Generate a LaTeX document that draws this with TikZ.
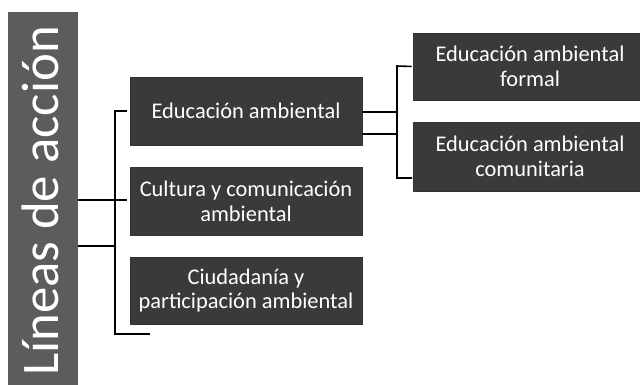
\documentclass[tikz,border=0pt]{standalone}
\usepackage{fontspec}
\setmainfont{Carlito}
\definecolor{barcol}{HTML}{5C5C5C}
\definecolor{boxcol}{HTML}{3A3A3A}
\begin{document}
\begin{tikzpicture}[x=1bp,y=-1bp,
  box/.style={draw=black!80,line width=0.8bp,fill=boxcol,text=white,align=center,font=\fontsize{22.5}{25}\selectfont,inner sep=0pt},
  conn/.style={line width=1.6bp,black}]
\useasboundingbox[fill=white] (0,0) rectangle (640,384);
% left bar
\fill[barcol] (8,12) rectangle (78,386);
\node[rotate=90,anchor=base,text=white,font=\fontsize{53}{53}\selectfont,inner sep=0pt] (title) at (58,201) {Líneas de acción};
\coordinate (barE1) at (78,200);
\coordinate (barE2) at (78,246);
% middle boxes
\node[box,minimum width=232bp,minimum height=68bp] (b1) at (246,111) {Educación ambiental};
\node[box,minimum width=232bp,minimum height=68bp] (b2) at (246,201) {Cultura y comunicación\\ambiental};
\node[box,minimum width=232bp,minimum height=67bp] (b3) at (246,290.5) {Ciudadanía y\\participación ambiental};
% right boxes
\node[box,minimum width=234bp,minimum height=67bp] (r1) at (530,66.5) {Educación ambiental\\formal};
\node[box,minimum width=234bp,minimum height=69bp] (r2) at (530,156.5) {Educación ambiental\\comunitaria};
% left connectors
\coordinate (vtop) at (115,111);
\coordinate (vbot) at (115,334);
\coordinate (vend) at (150,334);
\coordinate (vmid) at (115,246);
\draw[conn,shorten >=3bp] (barE1) -- (barE1 -| b2.west);
\draw[conn] (barE2) -- (vmid);
\draw[conn,shorten <=3bp] (b1.west) -- (vtop) -- (vbot) -- (vend);
% right connectors
\coordinate (rtop) at (397,66);
\coordinate (rbot) at (397,178);
\coordinate (rend) at (412,178);
\coordinate (ra) at (397,112);
\coordinate (rb) at (397,134);
\draw[conn] (b1.east |- ra) -- (ra);
\draw[conn] (b1.east |- rb) -- (rb);
\draw[conn,shorten <=1bp] (r1.west) -- (rtop) -- (rbot) -- (rend);
\end{tikzpicture}
\end{document}
